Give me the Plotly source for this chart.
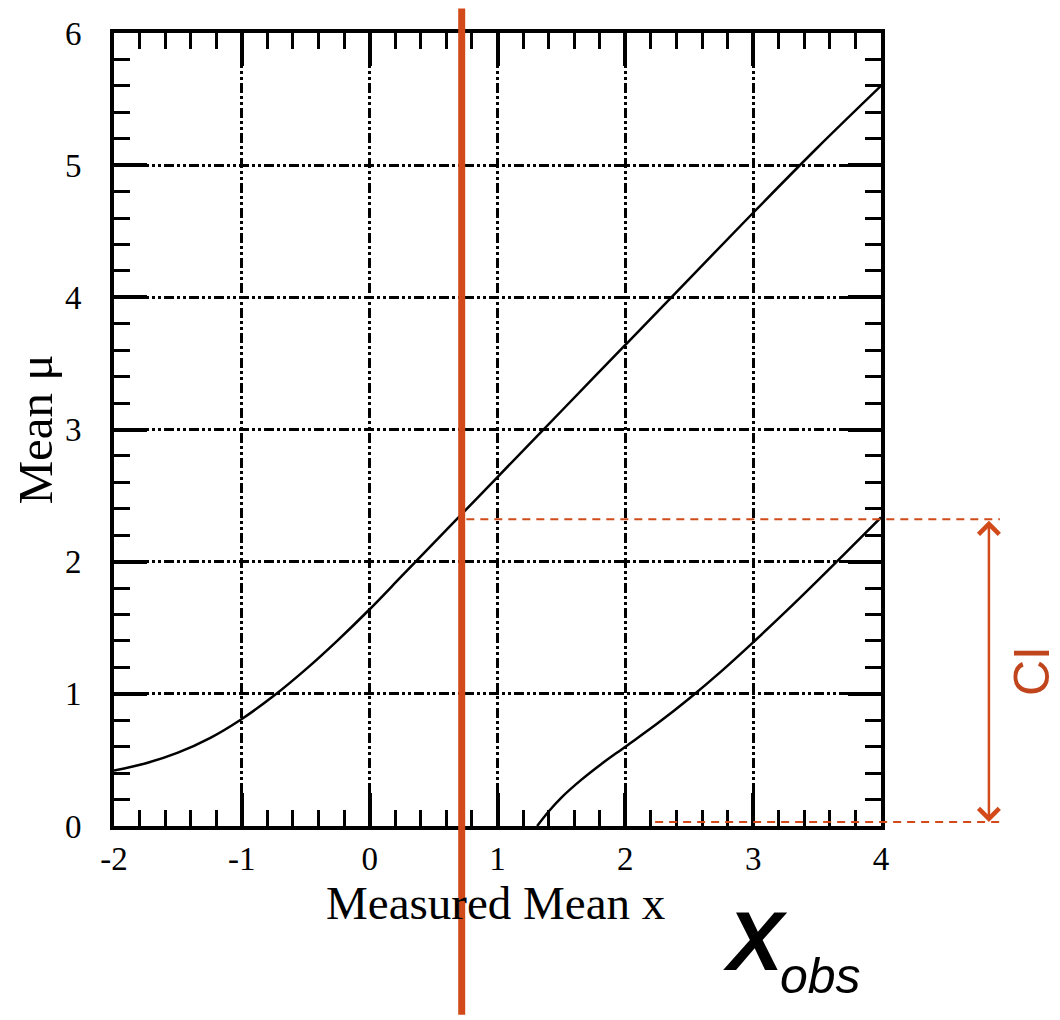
import plotly.graph_objects as go

# upper and lower confidence belt edges
upper_x = [-2.0, -1.75, -1.5, -1.25, -1.0, -0.75, -0.5, -0.25, 0.0, 0.25, 0.5, 0.75, 1.0, 1.5, 2.0, 2.5, 3.0, 3.5, 4.0]
upper_mu = [0.42, 0.475, 0.555, 0.665, 0.81, 0.985, 1.185, 1.405, 1.64, 1.89, 2.14, 2.39, 2.64, 3.14, 3.64, 4.14, 4.64, 5.13, 5.60]

lower_x = [1.31, 1.4, 1.5, 1.65, 1.8, 2.0, 2.25, 2.5, 2.75, 3.0, 3.25, 3.5, 3.75, 4.0]
lower_mu = [0.0, 0.11, 0.215, 0.345, 0.46, 0.60, 0.775, 0.965, 1.17, 1.39, 1.6175, 1.8525, 2.0925, 2.335]

x_ticks = [-2, -1, 0, 1, 2, 3, 4]
x_ticktext = ['-2', '-1', '0', '1', '2', '3', '4']
y_ticks = [0, 1, 2, 3, 4, 5, 6]

x_obs = 0.72
ci_low = 0.03
ci_high = 2.32

x_range = [-2, 4]
y_range = [0, 6]

RED = '#D24A1A'
SERIF = 'Liberation Serif'


def xpaper(v):
    return (v - x_range[0]) / (x_range[1] - x_range[0])


fig = go.Figure()

fig.add_trace(go.Scatter(
    x=upper_x, y=upper_mu, mode='lines',
    line=dict(color='black', width=2.5, shape='spline'),
    showlegend=False, hoverinfo='skip'
))
fig.add_trace(go.Scatter(
    x=lower_x, y=lower_mu, mode='lines',
    line=dict(color='black', width=2.5, shape='spline'),
    showlegend=False, hoverinfo='skip'
))

# x_obs vertical line (runs past the plot frame)
fig.add_shape(type='line', xref='x', yref='paper', x0=x_obs, x1=x_obs,
              y0=-0.238, y1=1.031, line=dict(color=RED, width=7), layer='above')

# dashed CI bounds
fig.add_shape(type='line', xref='paper', yref='y', x0=xpaper(x_obs) + 0.006, x1=1.155,
              y0=ci_high, y1=ci_high, line=dict(color=RED, width=2, dash='8px,6px'), layer='above')
fig.add_shape(type='line', xref='paper', yref='y', x0=0.7055, x1=1.155,
              y0=ci_low, y1=ci_low, line=dict(color=RED, width=2, dash='8px,6px'), layer='above')

# double arrow
fig.add_annotation(xref='paper', yref='y', x=1.1407, y=ci_low,
                   axref='pixel', ayref='y', ax=0, ay=ci_high,
                   text='', showarrow=True, arrowhead=4, startarrowhead=4,
                   arrowside='end+start', arrowwidth=2.5, arrowsize=1.6, startarrowsize=1.6,
                   arrowcolor=RED)

fig.add_annotation(xref='paper', yref='paper', x=1.237, y=0.161, text='CI',
                   textangle=-90, showarrow=False,
                   font=dict(family='Liberation Sans', size=50, color='#C0441C'))

# X_obs label
fig.add_annotation(xref='paper', yref='paper', x=0.836, y=-0.145, text='X',
                   showarrow=False, xanchor='center', yanchor='middle',
                   font=dict(family='Liberation Sans', size=84, color='black',
                             style='italic', weight='bold'))
fig.add_annotation(xref='paper', yref='paper', x=0.9205, y=-0.189, text='obs',
                   showarrow=False, xanchor='center', yanchor='middle',
                   font=dict(family='Liberation Sans', size=50, color='black', style='italic'))

# x axis title
fig.add_annotation(xref='paper', yref='paper', x=0.498, y=-0.097, text='Measured Mean x',
                   showarrow=False, xanchor='center', yanchor='middle',
                   font=dict(family=SERIF, size=47, color='black'))

axis_common = dict(
    showline=True, linecolor='black', linewidth=4, mirror='allticks',
    ticks='inside', ticklen=33, tickwidth=4, tickcolor='black',
    showgrid=True, gridcolor='black', gridwidth=3, griddash='10px,3px,3px,3px,3px,3px',
    zeroline=False, automargin=False,
    minor=dict(ticks='inside', ticklen=16, tickwidth=3, tickcolor='black', dtick=0.2, showgrid=False),
    tickfont=dict(family=SERIF, size=33, color='black'),
)

fig.update_layout(
    width=1060, height=1020,
    margin=dict(l=106, r=187, t=25, b=202),
    plot_bgcolor='white', paper_bgcolor='white',
    xaxis=dict(range=x_range, tickvals=x_ticks, ticktext=x_ticktext, ticklabelstandoff=0,
               **axis_common),
    yaxis=dict(range=y_range, tickvals=y_ticks, ticklabelstandoff=22,
               title=dict(text='Mean μ', font=dict(family=SERIF, size=49, color='black'), standoff=19),
               **axis_common),
)

fig.write_html('out.html')
